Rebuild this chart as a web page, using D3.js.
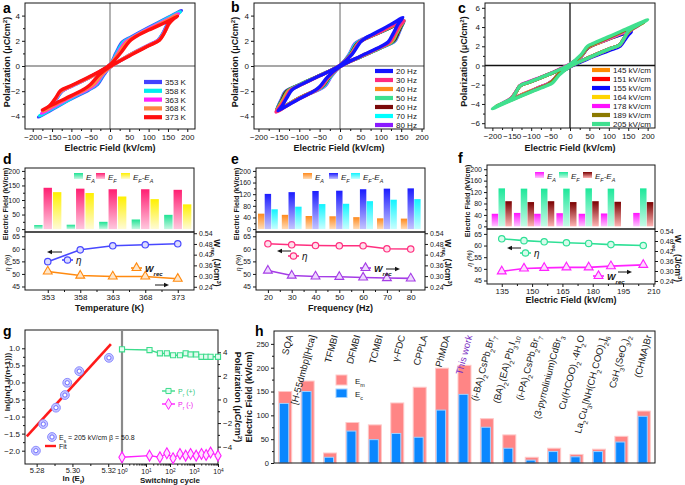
<!DOCTYPE html>
<html><head><meta charset="utf-8">
<script src="https://cdn.jsdelivr.net/npm/d3@7"></script>
<style>body{margin:0;background:#fff}</style>
</head><body>
<svg id="fig" width="685" height="485" font-family="'Liberation Sans', Arial, sans-serif"></svg>
<script>
// ---- panel a: P-E loops vs temperature
const aNames = ["353 K", "358 K", "363 K", "368 K", "373 K"];
const aColors = ["#4242ff", "#00eeee", "#ff22ff", "#ff8444", "#ff1010"];
const aLoops = [
  [[-185,-4.05],[-150,-3.45],[-100,-2.6],[-55,-1.9],[-32,-1.45],[-15,-0.65],[0,-0.1],[50,0.85],[100,1.65],[124,2.05],[137,2.6],[150,3.4],[165,3.95],[185,4.4],[150,3.85],[100,3.05],[55,2.3],[32,1.9],[15,1.0],[0,0.1],[-50,-0.85],[-100,-1.6],[-124,-2.0],[-137,-2.55],[-150,-3.2],[-165,-3.65]],
  [[-182,-3.95],[-150,-3.4],[-100,-2.55],[-55,-1.85],[-35,-1.45],[-17,-0.65],[0,-0.1],[50,0.85],[100,1.65],[125,2.05],[138,2.6],[151,3.35],[165,3.9],[182,4.3],[150,3.8],[100,3.0],[55,2.25],[35,1.9],[17,1.0],[0,0.1],[-50,-0.85],[-100,-1.6],[-125,-2.0],[-138,-2.55],[-151,-3.15],[-165,-3.6]],
  [[-177,-3.75],[-150,-3.3],[-100,-2.45],[-55,-1.8],[-38,-1.45],[-20,-0.7],[0,-0.1],[50,0.85],[100,1.65],[126,2.05],[139,2.6],[152,3.35],[165,3.8],[177,4.15],[150,3.7],[100,2.95],[58,2.25],[38,1.85],[20,1.0],[0,0.1],[-50,-0.85],[-100,-1.6],[-126,-2.0],[-139,-2.55],[-152,-3.1],[-165,-3.45]],
  [[-173,-3.6],[-150,-3.2],[-100,-2.4],[-60,-1.8],[-42,-1.45],[-22,-0.7],[0,-0.1],[50,0.85],[100,1.62],[127,2.05],[140,2.6],[153,3.35],[163,3.75],[173,4.05],[150,3.65],[100,2.9],[60,2.25],[42,1.85],[22,1.0],[0,0.1],[-50,-0.85],[-100,-1.58],[-127,-2.0],[-140,-2.55],[-153,-3.1],[-163,-3.35]],
  [[-175,-3.5],[-150,-3.1],[-100,-2.35],[-65,-1.8],[-50,-1.45],[-28,-0.7],[0,-0.05],[50,0.8],[100,1.6],[128,2.05],[140,2.6],[152,3.35],[163,3.7],[175,3.95],[150,3.55],[100,2.85],[65,2.3],[50,1.95],[28,1.05],[0,0.1],[-50,-0.8],[-100,-1.55],[-128,-1.95],[-140,-2.5],[-152,-3.0],[-163,-3.3]]
];

// ---- panel b: P-E loops vs frequency
const bNames = ["20 Hz", "30 Hz", "40 Hz", "50 Hz", "60 Hz", "70 Hz", "80 Hz"];
const bColors = ["#1414ff", "#ff2a7f", "#ff8c1a", "#3de08f", "#7a0a0a", "#00ffff", "#8a1aff"];
const bLoops = [
  [[-152,-3.55],[-130,-3.15],[-100,-2.6],[-62,-1.95],[-50,-1.65],[-30,-0.85],[0,-0.05],[50,0.78],[100,1.55],[118,1.9],[130,2.55],[142,3.3],[154,3.85],[130,3.4],[100,2.85],[62,2.2],[50,1.9],[30,0.95],[0,0.05],[-50,-0.78],[-100,-1.55],[-118,-1.9],[-130,-2.5],[-142,-3.15]],
  [[-157,-3.65],[-130,-3.15],[-100,-2.6],[-60,-1.95],[-47,-1.65],[-28,-0.85],[0,-0.05],[50,0.75],[100,1.5],[122,1.9],[134,2.55],[146,3.2],[157,3.6],[130,3.25],[100,2.75],[60,2.15],[47,1.85],[28,0.9],[0,0.05],[-50,-0.78],[-100,-1.55],[-122,-1.95],[-134,-2.6],[-146,-3.2]],
  [[-156,-3.6],[-130,-3.1],[-100,-2.55],[-58,-1.9],[-45,-1.6],[-27,-0.85],[0,-0.05],[50,0.75],[100,1.5],[126,1.95],[137,2.6],[148,3.2],[156,3.6],[130,3.2],[100,2.75],[58,2.1],[45,1.8],[27,0.9],[0,0.05],[-50,-0.78],[-100,-1.55],[-126,-2.0],[-137,-2.6],[-148,-3.15]],
  [[-156,-3.6],[-130,-3.1],[-100,-2.55],[-57,-1.9],[-44,-1.6],[-26,-0.85],[0,-0.05],[50,0.72],[100,1.45],[128,1.95],[139,2.6],[149,3.2],[157,3.6],[130,3.2],[100,2.72],[57,2.1],[44,1.8],[26,0.9],[0,0.05],[-50,-0.75],[-100,-1.5],[-128,-2.0],[-139,-2.6],[-149,-3.15]],
  [[-155,-3.55],[-130,-3.1],[-100,-2.55],[-55,-1.85],[-41,-1.55],[-24,-0.8],[0,-0.05],[50,0.72],[100,1.45],[132,2.0],[142,2.6],[150,3.15],[156,3.55],[130,3.15],[100,2.7],[55,2.05],[41,1.75],[24,0.85],[0,0.05],[-50,-0.75],[-100,-1.5],[-132,-2.05],[-142,-2.65],[-150,-3.15]],
  [[-155,-3.55],[-130,-3.1],[-100,-2.55],[-52,-1.85],[-38,-1.55],[-22,-0.8],[0,-0.05],[50,0.72],[100,1.45],[134,2.0],[143,2.6],[151,3.15],[156,3.55],[130,3.15],[100,2.7],[52,2.05],[38,1.75],[22,0.85],[0,0.05],[-50,-0.75],[-100,-1.5],[-134,-2.05],[-143,-2.65],[-151,-3.15]],
  [[-155,-3.55],[-130,-3.1],[-100,-2.55],[-50,-1.85],[-36,-1.55],[-21,-0.8],[0,-0.05],[50,0.72],[100,1.45],[135,2.0],[144,2.6],[151,3.15],[156,3.55],[130,3.15],[100,2.7],[50,2.05],[36,1.75],[21,0.85],[0,0.05],[-50,-0.75],[-100,-1.5],[-135,-2.05],[-144,-2.65],[-151,-3.15]]
];

// ---- panel c: P-E loops vs applied field
const cNames = ["145 kV/cm", "151 kV/cm", "155 kV/cm", "164 kV/cm", "178 kV/cm", "189 kV/cm", "205 kV/cm"];
const cColors = ["#ff8a00", "#ff0000", "#0a0aff", "#ffd500", "#ff10ff", "#8c7a00", "#40e08f"];
const cLoops = [
  [[-150,-3.45],[-120,-2.95],[-80,-2.3],[-58,-1.95],[-45,-1.6],[-28,-0.85],[0,-0.1],[50,0.85],[100,1.7],[128,2.15],[139,2.8],[150,3.5],[120,3.05],[80,2.45],[58,2.1],[45,1.8],[28,0.95],[0,0.1],[-50,-0.85],[-100,-1.65],[-128,-2.1],[-139,-2.75]],
  [[-155,-3.55],[-120,-3.0],[-80,-2.3],[-58,-1.95],[-45,-1.6],[-28,-0.85],[0,-0.1],[50,0.85],[100,1.7],[128,2.15],[139,2.8],[149,3.4],[155,3.6],[120,3.1],[80,2.45],[58,2.1],[45,1.8],[28,0.95],[0,0.1],[-50,-0.85],[-100,-1.65],[-128,-2.1],[-139,-2.75],[-149,-3.3]],
  [[-158,-3.6],[-120,-3.0],[-80,-2.3],[-58,-1.95],[-45,-1.6],[-28,-0.85],[0,-0.15],[50,0.75],[100,1.55],[130,2.05],[141,2.65],[151,3.2],[158,3.5],[120,3.05],[80,2.45],[58,2.1],[45,1.8],[28,0.9],[0,0.05],[-50,-0.85],[-100,-1.65],[-128,-2.1],[-140,-2.8],[-150,-3.35]],
  [[-166,-3.8],[-130,-3.15],[-80,-2.3],[-58,-1.95],[-45,-1.6],[-28,-0.85],[0,-0.1],[50,0.85],[100,1.7],[128,2.15],[139,2.8],[150,3.45],[166,3.95],[130,3.3],[80,2.45],[58,2.15],[45,1.85],[28,0.95],[0,0.1],[-50,-0.85],[-100,-1.65],[-128,-2.1],[-139,-2.75],[-150,-3.35]],
  [[-178,-4.0],[-140,-3.35],[-80,-2.3],[-58,-1.95],[-45,-1.6],[-28,-0.85],[0,-0.05],[50,0.85],[100,1.7],[128,2.15],[139,2.8],[150,3.5],[178,4.2],[140,3.55],[80,2.5],[58,2.2],[45,1.9],[28,1.0],[0,0.15],[-50,-0.8],[-100,-1.6],[-128,-2.05],[-139,-2.7],[-150,-3.35]],
  [[-190,-4.25],[-150,-3.55],[-80,-2.35],[-58,-2.0],[-45,-1.65],[-28,-0.85],[0,-0.1],[50,0.85],[100,1.7],[128,2.15],[139,2.8],[150,3.5],[190,4.5],[150,3.8],[80,2.55],[58,2.2],[45,1.9],[28,1.0],[0,0.1],[-50,-0.85],[-100,-1.65],[-128,-2.1],[-139,-2.75],[-150,-3.4]],
  [[-200,-4.5],[-150,-3.6],[-100,-2.75],[-60,-2.1],[-45,-1.8],[-28,-1.0],[0,-0.1],[50,0.85],[100,1.7],[128,2.15],[139,2.8],[150,3.55],[175,4.2],[200,4.75],[150,3.9],[100,3.0],[60,2.3],[45,2.0],[28,1.1],[0,0.15],[-50,-0.85],[-100,-1.65],[-128,-2.1],[-139,-2.75],[-150,-3.4],[-175,-3.95]]
];
const fieldTicks = [-200, -150, -100, -50, 0, 50, 100, 150, 200];
const polTicksAB = [-4, -2, 0, 2, 4];
const polTicksC = [-6, -4, -2, 0, 2, 4, 6];

// ---- panels d, e, f: switching fields, efficiency, energy density
const dCats = [353, 358, 363, 368, 373];
const dEA = [14, 15, 25, 33, 49];
const dEF = [142, 139, 137, 137, 135];
const dDiff = [127, 124, 112, 103, 85];
const dEta = [54.9, 59.6, 61.2, 61.6, 62.0];
const dW = [0.326, 0.303, 0.298, 0.298, 0.285];

const eCats = [20, 30, 40, 50, 60, 70, 80];
const eEA = [53, 49, 45, 44, 41, 37, 36];
const eEF = [121, 127, 131, 132, 137, 139, 140];
const eDiff = [68, 77, 86, 87, 96, 101, 103];
const eEta = [62.0, 61.6, 61.3, 61.2, 61.2, 60.0, 59.9];
const eW = [0.331, 0.303, 0.298, 0.296, 0.292, 0.289, 0.287];

const fCats = [135, 146, 156, 167, 178, 189, 205];
const fEA = [44, 47, 44, 46, 44, 45, 47];
const fEF = [133, 132, 132, 132, 133, 132, 133];
const fDiff = [88, 85, 88, 85, 88, 86, 85];
const fEta = [62.9, 62.1, 61.6, 61.2, 60.9, 60.4, 60.0];
const fW = [0.298, 0.315, 0.319, 0.322, 0.322, 0.329, 0.337];

const etaTicks = [45, 50, 55, 60, 65];
const wTicks = [0.24, 0.30, 0.36, 0.42, 0.48, 0.54];

// ---- panel g: Weibull fit and fatigue
const gLnE = [5.2796, 5.2837, 5.2908, 5.2958, 5.2971, 5.3038, 5.3204];
const gWeib = [-2.0, -1.22, -0.74, -0.37, -0.01, 0.33, 0.72];
const gFitX = [5.2745, 5.3215];
const gFitY = [-1.58, 1.12];
const gLnTicks = [5.28, 5.30, 5.32];
const gWeibTicks = [-2.0, -1.5, -1.0, -0.5, 0.0, 0.5, 1.0];
const gCycles = [1, 14, 38, 74, 134, 260, 450, 720, 1230, 2050, 3200, 4900, 10000];
const gPpos = [4.25, 4.19, 3.91, 3.91, 3.75, 3.75, 3.91, 3.82, 3.82, 3.62, 3.62, 3.62, 3.62];
const gPneg = [-4.9, -4.76, -4.9, -4.56, -4.98, -4.62, -4.76, -4.62, -4.76, -4.62, -4.7, -4.5, -4.76];
const gCycleTicks = [1, 10, 100, 1000, 10000];
const gPolTicks = [-4, -2, 0, 2, 4];

// ---- panel h: comparison with other materials
const hCats = ["SQA", "[H-55dmbp][Hca]", "TFMBI", "DFMBI", "TCMBI", "γ-FDC", "CPPLA", "PhMDA", "This work",
  "(i-BA)_2CsPb_2Br_7", "(BA)_2(EA)_2Pb_3I_{10}", "(i-PA)_2CsPb_2Br_7", "(3-pyrrolinium)CdBr_3",
  "Cu(HCOO)_2·4H_2O", "La_2Cu_3[NH(CH_2COO)_2]_6", "CsH_3(SeO_3)_2", "(CHMA)Br"];
const hEm = [150, 172, 21, 85, 80, 126, 159, 199, 205, 93, 59, 12, 31, 18, 29, 56, 109];
const hEc = [125, 150, 12, 67, 49, 62, 54, 111, 144, 75, 31, 6, 24, 13, 24, 44, 98];
const hTicks = [0, 50, 100, 150, 200, 250];

const svg = d3.select("#fig");
const defs = svg.append("defs");
const INK = "#161616";

// text with _x / _{xx} subscripts and ^x / ^{xx} superscripts
function rich(t, s) {
  const re = /([_^])(\{([^}]*)\}|(.))/g;
  let last = 0, m;
  while ((m = re.exec(s))) {
    if (m.index > last) t.append("tspan").text(s.slice(last, m.index));
    t.append("tspan").attr("baseline-shift", m[1] === "_" ? "sub" : "super")
      .attr("font-size", "68%").text(m[3] !== undefined ? m[3] : m[4]);
    last = re.lastIndex;
  }
  if (last < s.length) t.append("tspan").text(s.slice(last));
}
function txt(g, s, x, y, o = {}) {
  const t = g.append("text").attr("x", x).attr("y", y).attr("font-size", o.fs || 9)
    .attr("font-weight", o.bold ? "bold" : null).attr("font-style", o.it ? "italic" : null)
    .attr("text-anchor", o.anchor || "middle").attr("fill", o.fill || INK);
  if (o.rot) t.attr("transform", `rotate(${o.rot},${x},${y})`);
  rich(t, s);
  return t;
}
function frame(g, l, r, t, b) {
  g.append("rect").attr("x", l).attr("y", t).attr("width", r - l).attr("height", b - t)
    .attr("fill", "none").attr("stroke", INK).attr("stroke-width", 1);
}
function axis(g, gen, tx, ty, fs) {
  const a = g.append("g").attr("transform", `translate(${tx},${ty})`).call(gen);
  a.attr("font-family", null).attr("font-size", null);
  a.select(".domain").remove();
  a.selectAll(".tick line").attr("stroke", INK);
  a.selectAll(".tick text").attr("font-size", fs || 8).attr("fill", INK);
  return a;
}
const mids = v => d3.pairs(v, (a, b) => (a + b) / 2);
function panelLabel(s, x, y) { txt(svg, s, x, y, { fs: 14, bold: true, anchor: "start", fill: "#000" }); }

// ---------- hysteresis panels
function loopPanel(c) {
  const x = d3.scaleLinear().domain(c.xd).range([c.l, c.r]);
  const y = d3.scaleLinear().domain(c.yd).range([c.b, c.t]);
  const g = svg.append("g");
  g.append("line").attr("x1", x(0)).attr("x2", x(0)).attr("y1", c.t).attr("y2", c.b).attr("stroke", c.zero).attr("stroke-width", 1.3);
  g.append("line").attr("x1", c.l).attr("x2", c.r).attr("y1", y(0)).attr("y2", y(0)).attr("stroke", c.zero).attr("stroke-width", 1.3);
  const line = d3.line().x(d => x(d[0])).y(d => y(d[1])).curve(d3.curveCatmullRomClosed.alpha(0.5));
  const idx = c.loops.map((_, i) => i);
  if (c.rev) idx.reverse();
  idx.forEach(i => g.append("path").attr("d", line(c.loops[i])).attr("fill", "none")
    .attr("stroke", c.colors[i]).attr("stroke-width", 3.4).attr("stroke-linejoin", "round"));
  frame(g, c.l, c.r, c.t, c.b);
  axis(g, d3.axisBottom(x).tickValues(fieldTicks).tickSize(3).tickPadding(2), 0, c.b);
  axis(g, d3.axisBottom(x).tickValues(mids(fieldTicks)).tickSize(2).tickFormat(""), 0, c.b);
  axis(g, d3.axisLeft(y).tickValues(c.yt).tickSize(3).tickPadding(2), c.l, 0);
  axis(g, d3.axisLeft(y).tickValues(mids(c.yt)).tickSize(2).tickFormat(""), c.l, 0);
  c.names.forEach((n, i) => {
    const yy = c.legY + i * c.legDy;
    g.append("line").attr("x1", c.legX).attr("x2", c.legX + 18).attr("y1", yy).attr("y2", yy)
      .attr("stroke", c.colors[i]).attr("stroke-width", 4.2);
    txt(g, n, c.legX + 21, yy + 3, { fs: 8, anchor: "start" });
  });
  txt(g, "Polarization (μC/cm^2)", c.ytx, (c.t + c.b) / 2 - 4, { bold: true, rot: -90 });
  txt(g, "Electric Field (kV/cm)", (c.l + c.r) / 2, 151, { bold: true });
}
loopPanel({ l: 25, r: 195, t: 3, b: 129, xd: [-220, 220], yd: [-5, 5], yt: polTicksAB, zero: "#8a8a8a",
  loops: aLoops, colors: aColors, names: aNames, legX: 144, legY: 82, legDy: 8.8, ytx: 10 });
loopPanel({ l: 254, r: 424, t: 3, b: 129, xd: [-211, 206], yd: [-5, 5], yt: polTicksAB, zero: "#8a8a8a",
  loops: bLoops, colors: bColors, names: bNames, legX: 375, legY: 71, legDy: 9, rev: true, ytx: 238 });
loopPanel({ l: 485, r: 655, t: 3, b: 128, xd: [-219, 219], yd: [-6.5, 6.5], yt: polTicksC, zero: "#111",
  loops: cLoops, colors: cColors, names: cNames, legX: 592, legY: 70, legDy: 9, ytx: 467 });

// ---------- d / e / f composite panels
function arrow(g, x1, x2, y) {
  const dir = Math.sign(x2 - x1);
  g.append("line").attr("x1", x1).attr("x2", x2 - dir * 3).attr("y1", y).attr("y2", y).attr("stroke", INK).attr("stroke-width", 1);
  g.append("path").attr("d", `M${x2},${y}L${x2 - dir * 5},${y - 2.2}L${x2 - dir * 5},${y + 2.2}Z`).attr("fill", INK);
}
function statPanel(c) {
  const x = d3.scaleLinear().domain(c.xd).range([c.l, c.r]);
  const yT = d3.scaleLinear().domain(c.ytd).range([c.mid, c.t]);
  const yL = d3.scaleLinear().domain(c.yld).range([c.b, c.mid]);
  const yR = d3.scaleLinear().domain(c.yrd).range([c.b, c.mid]);
  const g = svg.append("g");
  c.grads.forEach((gr, k) => {
    const lg = defs.append("linearGradient").attr("id", c.id + k).attr("x1", 0).attr("y1", 0).attr("x2", 0).attr("y2", 1);
    lg.append("stop").attr("offset", 0).attr("stop-color", gr[0]);
    lg.append("stop").attr("offset", 1).attr("stop-color", gr[1]);
  });
  c.bars.forEach((ser, k) => {
    g.selectAll(null).data(ser).enter().append("rect")
      .attr("x", (d, i) => x(c.cats[i]) + (k - 1) * c.step - c.bw / 2)
      .attr("width", c.bw)
      .attr("y", d => yT(d)).attr("height", d => yT(0) - yT(d))
      .attr("fill", `url(#${c.id + k})`);
  });
  frame(g, c.l, c.r, c.t, c.mid);
  frame(g, c.l, c.r, c.mid, c.b);
  axis(g, d3.axisLeft(yT).tickValues(c.ytTicks).tickSize(3).tickPadding(2), c.l, 0, 7);
  axis(g, d3.axisLeft(yT).tickValues(mids(c.ytTicks)).tickSize(2).tickFormat(""), c.l, 0);
  axis(g, d3.axisLeft(yL).tickValues(etaTicks).tickSize(3).tickPadding(2), c.l, 0, 7);
  axis(g, d3.axisRight(yR).tickValues(wTicks).tickSize(3).tickPadding(2).tickFormat(d3.format(".2f")), c.r, 0, 7);
  axis(g, d3.axisBottom(x).tickValues(c.xTicks).tickSize(3).tickPadding(1.5), 0, c.b);
  axis(g, d3.axisBottom(x).tickValues(mids(c.xTicks)).tickSize(2).tickFormat(""), 0, c.b);

  const lineE = d3.line().x((d, i) => x(c.cats[i])).y(d => yL(d));
  const lineW = d3.line().x((d, i) => x(c.cats[i])).y(d => yR(d));
  g.append("path").attr("d", lineE(c.eta)).attr("fill", "none").attr("stroke", c.etaCol).attr("stroke-width", 1.6);
  g.append("path").attr("d", lineW(c.w)).attr("fill", "none").attr("stroke", c.wCol).attr("stroke-width", 1.6);
  g.selectAll(null).data(c.eta).enter().append("circle")
    .attr("cx", (d, i) => x(c.cats[i])).attr("cy", d => yL(d)).attr("r", 3.2)
    .attr("fill", c.etaFill).attr("stroke", c.etaCol).attr("stroke-width", 1.2);
  const tri = d3.symbol(d3.symbolTriangle, 34)();
  g.selectAll(null).data(c.w).enter().append("path").attr("d", tri)
    .attr("transform", (d, i) => `translate(${x(c.cats[i])},${yR(d)})`)
    .attr("fill", c.wFill).attr("stroke", c.wCol).attr("stroke-width", 1.1);

  // bar legend
  const bl = ["E_A", "E_F", "E_F-E_A"];
  bl.forEach((s, k) => {
    g.append("rect").attr("x", c.legBx[k]).attr("y", c.legBy).attr("width", 9).attr("height", 6)
      .attr("fill", `url(#${c.id + k})`);
    txt(g, s, c.legBx[k] + 12, c.legBy + 6.5, { fs: 8, it: true, anchor: "start" });
  });
  // line legends and arrows
  const [ex, ey] = c.etaLeg;
  g.append("line").attr("x1", ex).attr("x2", ex + 11).attr("y1", ey).attr("y2", ey).attr("stroke", c.etaCol).attr("stroke-width", 1.6);
  g.append("circle").attr("cx", ex + 5.5).attr("cy", ey).attr("r", 3.2).attr("fill", c.etaFill).attr("stroke", c.etaCol).attr("stroke-width", 1.2);
  txt(g, "η", ex + 14, ey + 3.5, { fs: 10, it: true, anchor: "start" });
  const [wx, wy] = c.wLeg;
  g.append("line").attr("x1", wx).attr("x2", wx + 11).attr("y1", wy).attr("y2", wy).attr("stroke", c.wCol).attr("stroke-width", 1.6);
  g.append("path").attr("d", tri).attr("transform", `translate(${wx + 5.5},${wy})`).attr("fill", c.wFill).attr("stroke", c.wCol).attr("stroke-width", 1.1);
  txt(g, "W_{rec}", wx + 14, wy + 3.5, { fs: 9, it: true, bold: true, anchor: "start" });
  arrow(g, c.arrL[0], c.arrL[1], c.arrL[2]);
  arrow(g, c.arrR[0], c.arrR[1], c.arrR[2]);

  txt(g, "Electric Field (kV/cm)", c.l - 17, (c.t + c.mid) / 2 + 4, { bold: true, rot: -90, fs: 7.2 });
  txt(g, "η (%)", c.l - 15, (c.mid + c.b) / 2 + 2, { rot: -90, fs: 7, it: true });
  txt(g, "W_{rec} (J/cm^3)", c.r + 20, (c.mid + c.b) / 2 + 2, { bold: true, rot: 90, fs: 8.5 });
  txt(g, c.xTitle, (c.l + c.r) / 2, c.xTitleY, { bold: true, fs: 9 });
}
statPanel({ id: "gd", l: 25, r: 194, t: 168, mid: 232, b: 290, xd: [349.5, 375.5], ytd: [-10, 210],
  yld: [43.6, 66.7], yrd: [0.222, 0.547],
  cats: dCats, bars: [dEA, dEF, dDiff], bw: 8.4, step: 9.4, ytTicks: [0, 50, 100, 150, 200], xTicks: dCats,
  grads: [["#1fe394", "#c6f7e2"], ["#ff1f72", "#ffc8de"], ["#fff000", "#fffbd6"]],
  eta: dEta, w: dW, etaCol: "#4848ff", etaFill: "#dcdcff", wCol: "#ff8a10", wFill: "#ffe6c8",
  legBx: [74, 96, 121], legBy: 173, etaLeg: [62, 260], wLeg: [131, 268], arrL: [62, 47, 252], arrR: [155, 169, 285],
  xTitle: "Temperature (K)", xTitleY: 311 });
statPanel({ id: "ge", l: 256, r: 425, t: 168, mid: 232, b: 290, xd: [15, 86], ytd: [-10, 210],
  yld: [43.6, 66.7], yrd: [0.222, 0.547],
  cats: eCats, bars: [eEA, eEF, eDiff], bw: 6.4, step: 6.7, ytTicks: [0, 40, 80, 120, 160, 200], xTicks: eCats,
  grads: [["#ff8a1c", "#ffdcb8"], ["#1c1cff", "#c4c4ff"], ["#10f4ff", "#c8ffff"]],
  eta: eEta, w: eW, etaCol: "#ff2f7f", etaFill: "#ffe0ec", wCol: "#a53de6", wFill: "#eed8ff",
  legBx: [303, 329, 351], legBy: 173, etaLeg: [288, 256], wLeg: [360, 268], arrL: [291, 277, 251], arrR: [386, 400, 269],
  xTitle: "Frequency (Hz)", xTitleY: 311 });
statPanel({ id: "gf", l: 487, r: 655, t: 165, mid: 229, b: 284, xd: [127.7, 210.8], ytd: [-9.3, 214.8],
  yld: [43.5, 67.1], yrd: [0.222, 0.552],
  cats: fCats, bars: [fEA, fEF, fDiff], bw: 6.5, step: 6.8, ytTicks: [0, 40, 80, 120, 160, 200], xTicks: [135, 150, 165, 180, 195, 210],
  grads: [["#ff10ff", "#ffc6ff"], ["#1de89a", "#c6fae6"], ["#7a0000", "#ffb4b4"]],
  eta: fEta, w: fW, etaCol: "#2fe096", etaFill: "#d8fbec", wCol: "#ff22ff", wFill: "#ffd8ff",
  legBx: [535, 559, 583], legBy: 172, etaLeg: [520, 253], wLeg: [593, 276], arrL: [521, 507, 248], arrR: [618, 632, 272],
  xTitle: "Electric Field (kV/cm)", xTitleY: 303 });

// ---------- g
{
  const g = svg.append("g");
  const l = 25, m = 122, r = 218, t = 330, b = 464;
  const x = d3.scaleLinear().domain([5.2735, 5.3277]).range([l, m]);
  const y = d3.scaleLinear().domain([-2.39, 1.536]).range([b, t]);
  const xc = d3.scaleLog().domain([1, 10000]).range([m, r]);
  const yp = d3.scaleLinear().domain([-5.47, 5.89]).range([b, t]);
  g.append("line").attr("x1", x(gFitX[0])).attr("x2", x(gFitX[1])).attr("y1", y(gFitY[0])).attr("y2", y(gFitY[1]))
    .attr("stroke", "#ff1a1a").attr("stroke-width", 2.6);
  const pts = g.selectAll(null).data(gLnE).enter().append("g")
    .attr("transform", (d, i) => `translate(${x(d)},${y(gWeib[i])})`);
  pts.append("circle").attr("r", 4.4).attr("fill", "#c8c8ff").attr("stroke", "#8c8cff").attr("stroke-width", 1);
  pts.append("circle").attr("r", 2.1).attr("fill", "#fff").attr("stroke", "#6f6fff").attr("stroke-width", 1);
  frame(g, l, r, t, b);
  g.append("line").attr("x1", m).attr("x2", m).attr("y1", t).attr("y2", b).attr("stroke", "#8a8a8a").attr("stroke-width", 2.2);
  axis(g, d3.axisBottom(x).tickValues(gLnTicks).tickSize(3).tickPadding(1).tickFormat(d3.format(".2f")), 0, b, 7.5);
  axis(g, d3.axisBottom(x).tickValues(mids(gLnTicks)).tickSize(2).tickFormat(""), 0, b);
  axis(g, d3.axisLeft(y).tickValues(gWeibTicks).tickSize(3).tickPadding(2).tickFormat(d3.format(".1f")), l, 0);
  axis(g, d3.axisLeft(y).tickValues(mids(gWeibTicks)).tickSize(2).tickFormat(""), l, 0);

  const lp = d3.line().x((d, i) => xc(gCycles[i])).y(d => yp(d));
  g.append("path").attr("d", lp(gPpos)).attr("fill", "none").attr("stroke", "#3ddc8c").attr("stroke-width", 1.4);
  g.append("path").attr("d", lp(gPneg)).attr("fill", "none").attr("stroke", "#ff20ff").attr("stroke-width", 1.4);
  const sq = d3.symbol(d3.symbolSquare, 26)();
  const dm = d3.symbol(d3.symbolDiamond, 34)();
  g.selectAll(null).data(gPpos).enter().append("path").attr("d", sq)
    .attr("transform", (d, i) => `translate(${xc(gCycles[i])},${yp(d)})`)
    .attr("fill", "#e2fbef").attr("stroke", "#3ddc8c").attr("stroke-width", 1.1);
  g.selectAll(null).data(gPneg).enter().append("path").attr("d", dm)
    .attr("transform", (d, i) => `translate(${xc(gCycles[i])},${yp(d)})`)
    .attr("fill", "#ffe2ff").attr("stroke", "#ff20ff").attr("stroke-width", 1.1);
  const cyc = axis(g, d3.axisBottom(xc).tickValues(gCycleTicks).tickSize(3).tickFormat(""), 0, b);
  cyc.selectAll(".tick").each(function (d) { txt(d3.select(this), "10^{" + Math.round(Math.log10(d)) + "}", 0, 9.5, { fs: 7 }); });
  axis(g, d3.axisBottom(xc).tickValues(xc.ticks().filter(v => !gCycleTicks.includes(v))).tickSize(1.6).tickFormat(""), 0, b);
  axis(g, d3.axisRight(yp).tickValues(gPolTicks).tickSize(3).tickPadding(2), r, 0);
  axis(g, d3.axisRight(yp).tickValues(mids(gPolTicks)).tickSize(2).tickFormat(""), r, 0);

  // legends
  const lc = g.append("g").attr("transform", "translate(52,437)");
  lc.append("circle").attr("r", 4.4).attr("fill", "#c8c8ff").attr("stroke", "#8c8cff");
  lc.append("circle").attr("r", 2.1).attr("fill", "#fff").attr("stroke", "#6f6fff");
  txt(g, "E_s = 205 kV/cm  β = 50.8", 59, 440, { fs: 7, anchor: "start" });
  g.append("line").attr("x1", 45).attr("x2", 56).attr("y1", 446).attr("y2", 446).attr("stroke", "#ff1a1a").attr("stroke-width", 2.4);
  txt(g, "Fit", 59, 449, { fs: 7, anchor: "start" });
  g.append("line").attr("x1", 162).attr("x2", 175).attr("y1", 391).attr("y2", 391).attr("stroke", "#3ddc8c").attr("stroke-width", 1.4);
  g.append("path").attr("d", sq).attr("transform", "translate(168.5,391)").attr("fill", "#e2fbef").attr("stroke", "#3ddc8c");
  txt(g, "P_r (+)", 178, 394, { fs: 7, anchor: "start", fill: "#2fc87c" });
  g.append("line").attr("x1", 162).attr("x2", 175).attr("y1", 404).attr("y2", 404).attr("stroke", "#ff20ff").attr("stroke-width", 1.4);
  g.append("path").attr("d", dm).attr("transform", "translate(168.5,404)").attr("fill", "#ffe2ff").attr("stroke", "#ff20ff");
  txt(g, "P_r (-)", 178, 407, { fs: 7, anchor: "start", fill: "#ee10ee" });

  txt(g, "ln(-ln(1-i/(n+1)))", 10, 382, { bold: true, rot: -90, fs: 8 });
  txt(g, "ln (E_f)", (l + m) / 2, 481, { bold: true, fs: 8 });
  txt(g, "Switching cycle", (m + r) / 2, 483, { bold: true, fs: 8 });
  txt(g, "Polarization (μC/cm^2)", 235, 397, { bold: true, rot: 90, fs: 9 });
}

// ---------- h
{
  const g = svg.append("g");
  const l = 274, r = 655, t = 331, b = 463;
  const x = d3.scaleBand().domain(hCats).range([l, r]);
  const y = d3.scaleLinear().domain([0, 277]).range([b, t]);
  const cx = d => x(d) + x.bandwidth() / 2;
  g.selectAll(null).data(hEm).enter().append("rect")
    .attr("x", (d, i) => cx(hCats[i]) - 6.5).attr("width", 13)
    .attr("y", d => y(d)).attr("height", d => y(0) - y(d))
    .attr("fill", "#ff8585").attr("stroke", "#ffc9c9").attr("stroke-width", 1);
  g.selectAll(null).data(hEc).enter().append("rect")
    .attr("x", (d, i) => cx(hCats[i]) - 5.7).attr("width", 9.2)
    .attr("y", d => y(d)).attr("height", d => y(0) - y(d))
    .attr("fill", "#0b87ff").attr("stroke", "#9fd0ff").attr("stroke-width", 1);
  frame(g, l, r, t, b);
  axis(g, d3.axisLeft(y).tickValues(hTicks).tickSize(3).tickPadding(2), l, 0, 7.5);
  axis(g, d3.axisLeft(y).tickValues(mids(hTicks)).tickSize(2).tickFormat(""), l, 0);
  hCats.forEach(c => {
    txt(g, c, cx(c) + 8, 336, { fs: 9.5, anchor: "end", rot: -75, fill: c === "This work" ? "#7a2fc4" : INK });
  });
  g.append("rect").attr("x", 336).attr("y", 375).attr("width", 11).attr("height", 10).attr("fill", "#ff8585").attr("stroke", "#ffc9c9");
  g.append("rect").attr("x", 336).attr("y", 389).attr("width", 11).attr("height", 8.5).attr("fill", "#0b87ff").attr("stroke", "#9fd0ff");
  txt(g, "E_m", 355, 384, { fs: 8, anchor: "start" });
  txt(g, "E_c", 355, 397, { fs: 8, anchor: "start" });
  txt(g, "Electric Field (kV/cm)", 252, 397, { bold: true, rot: -90, fs: 9 });
}

panelLabel("a", 3, 13);
panelLabel("b", 231, 12);
panelLabel("c", 458, 13);
panelLabel("d", 3, 164);
panelLabel("e", 231, 164);
panelLabel("f", 458, 163);
panelLabel("g", 3, 336);
panelLabel("h", 255, 336);
</script>
</body></html>
